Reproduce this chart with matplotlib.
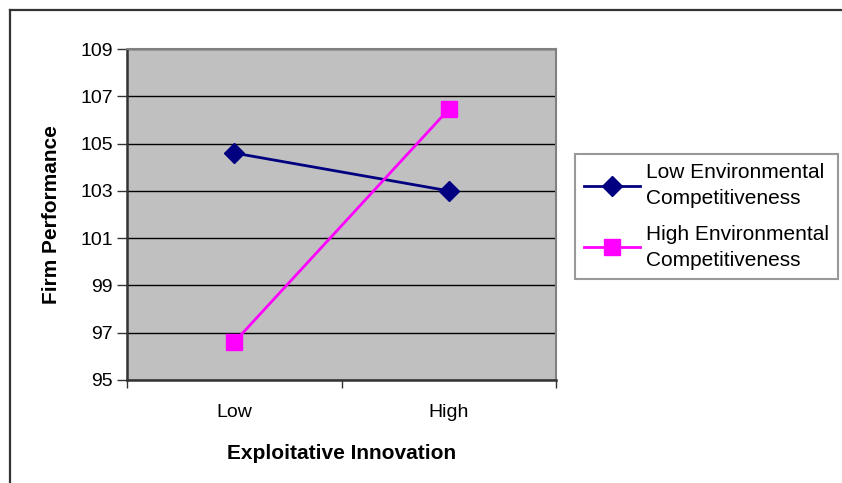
import matplotlib
matplotlib.use("Agg")
import matplotlib.pyplot as plt
from matplotlib.lines import Line2D

plt.rcParams['font.family'] = ['Liberation Sans', 'DejaVu Sans']

categories = ["Low", "High"]
low_env = [104.6, 103.0]
high_env = [96.6, 106.45]
series_names = ["Low Environmental\nCompetitiveness", "High Environmental\nCompetitiveness"]
y_ticks = [95, 97, 99, 101, 103, 105, 107, 109]

W, H = 842, 483
fig = plt.figure(figsize=(W / 100, H / 100), dpi=100)

# outer chart frame (left and top edges visible)
fig.add_artist(Line2D([10 / W, 10 / W], [0, 1 - 10 / H], transform=fig.transFigure,
                      color='#333333', lw=1.6))
fig.add_artist(Line2D([10 / W, 1], [1 - 10 / H, 1 - 10 / H], transform=fig.transFigure,
                      color='#333333', lw=1.6))

ax_l, ax_r, ax_t, ax_b = 127, 556, 49, 380
ax = fig.add_axes([ax_l / W, 1 - ax_b / H, (ax_r - ax_l) / W, (ax_b - ax_t) / H])
ax.set_facecolor('#c0c0c0')

x = [0.5, 1.5]
ax.plot(x, low_env, color='#000080', lw=2, marker='D', markersize=10,
        label=series_names[0], zorder=3)
ax.plot(x, high_env, color='#ff00ff', lw=2, marker='s', markersize=12,
        label=series_names[1], zorder=3)

ax.set_xlim(0, 2)
ax.set_ylim(95, 109)
ax.set_yticks(y_ticks)
ax.set_yticklabels([str(v) for v in y_ticks], fontsize=14)
ax.yaxis.grid(True, color='black', lw=1)
ax.set_axisbelow(True)

ax.set_xticks([0, 1, 2])
ax.set_xticklabels([])
ax.set_xticks(x, minor=True)
ax.set_xticklabels(categories, minor=True, fontsize=14)
ax.tick_params(axis='x', which='minor', length=0, pad=17)
ax.tick_params(axis='x', which='major', length=6, width=1, color='#333333', direction='out')
ax.tick_params(axis='y', length=7, width=1, color='#333333', direction='out', pad=3)

for side in ['left', 'bottom']:
    ax.spines[side].set_color('#333333')
    ax.spines[side].set_linewidth(1.8)
for side in ['top', 'right']:
    ax.spines[side].set_color('#808080')
    ax.spines[side].set_linewidth(1.5)

ax.set_xlabel("Exploitative Innovation", fontsize=15, fontweight='bold', labelpad=17)
ax.set_ylabel("Firm Performance", fontsize=15, fontweight='bold', labelpad=14)

leg = ax.legend(loc='upper left', bbox_to_anchor=((575 - ax_l) / (ax_r - ax_l), (ax_b - 154) / (ax_b - ax_t)),
                frameon=True, fancybox=False, fontsize=15, handlelength=2.65,
                borderpad=0.45, labelspacing=0.8, handletextpad=0.3, borderaxespad=0)
for t in leg.get_texts():
    t.set_linespacing(1.45)
leg.get_frame().set_edgecolor('#808080')
leg.get_frame().set_linewidth(1.5)

fig.savefig("out.png", dpi=100)
